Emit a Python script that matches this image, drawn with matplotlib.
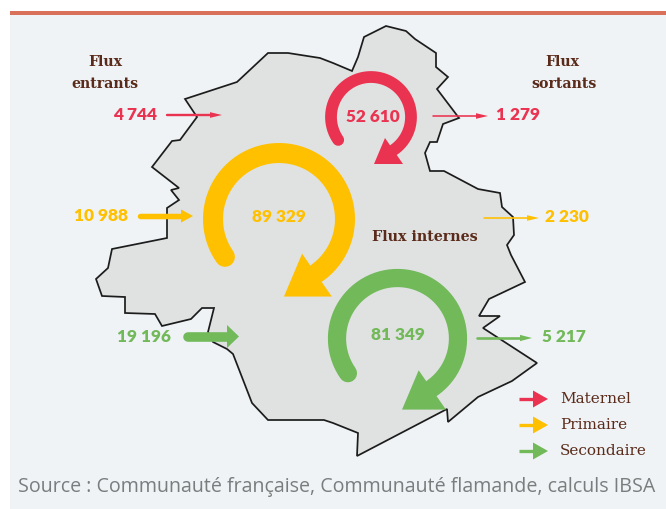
# Flux scolaires: map outline with internal and cross-border flows per school level
import numpy as np
import matplotlib
matplotlib.use("Agg")
import matplotlib.pyplot as plt
from matplotlib.patches import Polygon, Rectangle

levels = ["Maternel", "Primaire", "Secondaire"]
flux_entrants = [4744, 10988, 19196]
flux_sortants = [1279, 2230, 5217]
flux_internes = [52610, 89329, 81349]
source_text = "Source : Communauté française, Communauté flamande, calculs IBSA"

# Region outline
outline_x = [268, 288, 320, 333, 352, 358, 364, 386, 406, 415, 436, 436, 448, 437, 459, 443, 437, 430, 425, 430,
             444, 478, 500, 502, 513, 514, 507, 511, 525, 489, 479, 500, 483, 537, 512, 478, 448, 447, 357, 358,
             333, 324, 268, 252, 233, 227, 213, 208, 214, 202, 191, 162, 155, 125, 125, 102, 96, 108, 112, 167,
             167, 179, 171, 179, 152, 172, 180, 197, 185, 237]
outline_y = [53, 53, 58, 63, 71, 57, 37, 26, 31, 39, 53, 67, 77, 89, 118, 124, 142, 142, 153, 171,
             171, 189, 193, 207, 217, 235, 245, 255, 282, 299, 316, 316, 328, 363, 381, 397, 422, 409, 456, 433,
             423, 420, 420, 403, 354, 349, 342, 332, 308, 308, 319, 326, 314, 313, 297, 296, 279, 268, 249, 238,
             208, 200, 190, 188, 167, 141, 140, 117, 99, 82]

RED = "#ea3350"
YELLOW = "#ffc000"
GREEN = "#72b95a"
COLORS = [RED, YELLOW, GREEN]
BROWN = "#5a2a1a"
NUM_FONT = "Lato"
NUM_SIZE = 12.4
SLAB_FONT = "DejaVu Serif"


def fmt(value):
    return f"{value:,}".replace(",", " ")


def flow_arrow(ax, x0, x1, y, value, color):
    # Shaft and head sizes follow the flow value
    shaft = max(value * 0.0005, 1.6)
    half = max(value * 0.0006, 2.8)
    head = 12
    ax.plot([x0 + shaft / 2, x1 - head], [y, y], color=color, lw=shaft * 0.72, solid_capstyle="round", zorder=4)
    ax.add_patch(Polygon([(x1 - head, y - half), (x1, y), (x1 - head, y + half)], fc=color, ec="none", zorder=4))


def ring_arrow(ax, cx, cy, r, value, color):
    width = value * 0.000224
    angles = np.radians(np.linspace(145, 415, 200))
    ax.plot(cx + r * np.cos(angles), cy + r * np.sin(angles), color=color, lw=width * 0.72,
            solid_capstyle="round", zorder=3)
    ax.add_patch(Polygon([(cx + 0.075 * r, cy + 1.175 * r), (cx + 0.8 * r, cy + 1.175 * r),
                          (cx + 0.35 * r, cy + 0.525 * r)], fc=color, ec="none", zorder=3))


fig = plt.figure(figsize=(6.66, 5.09), dpi=100, facecolor="white")
ax = fig.add_axes([0, 0, 1, 1])
ax.set_xlim(0, 666)
ax.set_ylim(509, 0)
ax.axis("off")

# Panel and top rule
ax.add_patch(Rectangle((10, 15), 656, 494, fc="#eff3f5", ec="none", zorder=0))
ax.add_patch(Rectangle((10, 11), 656, 4, fc="#d9705a", ec="none", zorder=1))

# Map
ax.add_patch(Polygon(list(zip(outline_x, outline_y)), closed=True, fc="#e0e2e2", ec="#1c1c1c", lw=1.25,
                     joinstyle="miter", zorder=2))

# Internal flows
ring_cx = [371, 279, 397.5]
ring_cy = [117, 219, 338.5]
ring_r = [40, 66, 60.5]
ring_label_y = [116.5, 217, 335]
for i in range(3):
    ring_arrow(ax, ring_cx[i], ring_cy[i], ring_r[i], flux_internes[i], COLORS[i])
    ax.text(ring_cx[i] + (1.5 if i == 0 else 0), ring_label_y[i], fmt(flux_internes[i]), color=COLORS[i],
            family=NUM_FONT, weight="heavy", fontsize=NUM_SIZE, ha="center", va="center", zorder=5)

# Incoming flows
in_x0 = [166, 137, 183]
in_x1 = [222, 193, 239]
in_y = [115, 216, 336.5]
in_text_x = [157, 127.5, 171]
for i in range(3):
    flow_arrow(ax, in_x0[i], in_x1[i], in_y[i], flux_entrants[i], COLORS[i])
    ax.text(in_text_x[i], in_y[i], fmt(flux_entrants[i]), color=COLORS[i], family=NUM_FONT, weight="heavy",
            fontsize=NUM_SIZE, ha="right", va="center", zorder=5)

# Outgoing flows
out_x0 = [432, 483, 476]
out_x1 = [488, 539, 532]
out_y = [116, 218, 338]
out_text_x = [496, 545, 542]
for i in range(3):
    flow_arrow(ax, out_x0[i], out_x1[i], out_y[i], flux_sortants[i], COLORS[i])
    ax.text(out_text_x[i], out_y[i] - 1, fmt(flux_sortants[i]), color=COLORS[i], family=NUM_FONT, weight="heavy",
            fontsize=NUM_SIZE, ha="left", va="center", zorder=5)

# Headings
for x, y, s in [(105, 62, "Flux"), (105, 84, "entrants"), (562, 62, "Flux"), (564, 84, "sortants")]:
    ax.text(x, y, s, color=BROWN, family=SLAB_FONT, weight="bold", fontsize=10.2, ha="center", va="center", zorder=5)
ax.text(425, 237, "Flux internes", color=BROWN, family=SLAB_FONT, weight="bold", fontsize=10.3,
        ha="center", va="center", zorder=5)

# Legend
legend_y = [399, 425, 451]
for i in range(3):
    ax.plot([519, 534], [legend_y[i], legend_y[i]], color=COLORS[i], lw=2.4, solid_capstyle="butt", zorder=4)
    ax.add_patch(Polygon([(533, legend_y[i] - 8.5), (548, legend_y[i]), (533, legend_y[i] + 8.5)],
                         fc=COLORS[i], ec="none", zorder=4))
    ax.text(560, legend_y[i], levels[i], color=BROWN, family=SLAB_FONT, fontsize=11, ha="left", va="center", zorder=5)

# Source
ax.text(18, 487, source_text, color="#7a7d7d", family="Open Sans", fontsize=14.15, ha="left", va="center", zorder=5)

fig.savefig("out.png", dpi=100, facecolor="white")
